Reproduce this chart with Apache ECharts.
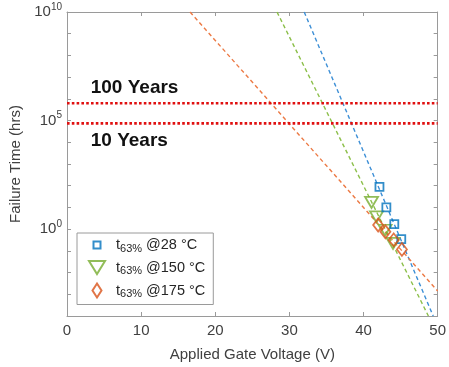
<!DOCTYPE html>
<html><head><meta charset="utf-8">
<script src="https://cdn.jsdelivr.net/npm/echarts@6/dist/echarts.min.js"></script>
<style>html,body{margin:0;padding:0;background:#fff}#c{width:449px;height:367px}</style>
</head><body><div id="c"></div>
<script>
// ---- data ----
const xTicks = [0, 10, 20, 30, 40, 50];
const yLabelExps = [0, 5, 10];
const legendTemps = ['28', '150', '175'];
// measured t63% points (V, hrs)
const v28 = [42.15, 43.08, 44.15, 45.09];
const t28 = [89, 10, 1.7, 0.35];
const v150 = [41.08, 41.75, 42.9, 43.98];
const t150 = [17, 3.7, 0.89, 0.22];
const v175 = [41.97, 42.95, 44.07, 45.18];
const t175 = [1.55, 0.76, 0.32, 0.117];
// fitted extrapolation lines (endpoints V, hrs)
const fit28V = [32.0, 49.4];
const fit28T = [1e10, 1e-4];
const fit150V = [28.33, 48.75];
const fit150T = [1e10, 1e-4];
const fit175V = [16.6, 50];
const fit175T = [1e10, 0.00141];
// reference lifetime lines
const refNames = ['100 Years', '10 Years'];
const refHrs = [630000, 74000];
const refV = [0, 50];
const annotV = [3.2, 3.2];
const annotHrs = [3.1e6, 1.15e4];

const FONT = 'Liberation Sans, Arial, sans-serif';
const colors = ['#0072BD', '#77AC30', '#D95319'];
const lineColors = ['#3d8fd6', '#8cbf4a', '#ec7a45'];
const zip = (a, b) => a.map((v, i) => [v, b[i]]);

const chart = echarts.init(document.getElementById('c'), null, {renderer: 'canvas'});
const axisGray = '#9a9a9a';
const textGray = '#404040';

const triDown = 'path://M0,0 L12,0 L6,10.4 Z';
const names = legendTemps.map(t => 'T' + t);
const legendIcons = [
  'path://M0,0 M16,14 M4.5,3.5 L11.5,3.5 L11.5,10.5 L4.5,10.5 Z',
  'path://M0,0.5 L16,0.5 L8,13.5 Z',
  'path://M0,0 M16,14 M8,0 L12.5,7 L8,14 L3.5,7 Z'
];

const series = [
  {name: names[0], type: 'scatter', data: zip(v28, t28), symbol: 'rect', symbolSize: 8,
   itemStyle: {color: 'rgba(0,0,0,0)', borderColor: colors[0], borderWidth: 1.8}, z: 5},
  {name: names[1], type: 'scatter', data: zip(v150, t150), symbol: triDown, symbolSize: [13, 11],
   itemStyle: {color: 'rgba(0,0,0,0)', borderColor: colors[1], borderWidth: 1.8}, z: 4},
  {name: names[2], type: 'scatter', data: zip(v175, t175), symbol: 'diamond', symbolSize: [10, 13],
   itemStyle: {color: 'rgba(0,0,0,0)', borderColor: colors[2], borderWidth: 1.8}, z: 6},
];
[[fit28V, fit28T], [fit150V, fit150T], [fit175V, fit175T]].forEach((f, i) => {
  series.push({type: 'line', data: zip(f[0], f[1]), showSymbol: false, symbol: 'none', silent: true,
    lineStyle: {color: lineColors[i], width: 1.4, type: [4, 3]}, z: 2});
});
refHrs.forEach(h => {
  series.push({type: 'line', data: zip(refV, [h, h]), showSymbol: false, symbol: 'none', silent: true,
    lineStyle: {color: '#e01010', width: 2.6, type: [2.6, 2.2]}, z: 3});
});

const supRich = {
  b: {fontSize: 15, fontFamily: FONT, color: textGray, lineHeight: 20},
  s: {fontSize: 10, fontFamily: FONT, color: textGray, lineHeight: 12, verticalAlign: 'top'}
};
const tick = {show: true, inside: true, length: 4, lineStyle: {color: axisGray, width: 1}};
const line = {show: true, onZero: false, lineStyle: {color: axisGray, width: 1}};

chart.setOption({
  animation: false,
  grid: {left: 67, top: 12, right: 8, bottom: 51, containLabel: false},
  xAxis: [
    {type: 'value', min: 0, max: 50, interval: 10, position: 'bottom',
     name: 'Applied Gate Voltage (V)', nameLocation: 'middle', nameGap: 31,
     nameTextStyle: {fontSize: 15, fontFamily: FONT, color: textGray},
     axisLine: line, axisTick: tick,
     axisLabel: {fontSize: 15, fontFamily: FONT, color: textGray, margin: 7,
       formatter: v => xTicks.includes(v) ? String(v) : ''},
     splitLine: {show: false}},
    {type: 'value', min: 0, max: 50, interval: 10, position: 'top',
     axisLine: line, axisTick: tick,
     axisLabel: {show: false}, splitLine: {show: false}}
  ],
  yAxis: [
    {type: 'log', logBase: 10, min: 1e-4, max: 1e10, interval: 1, position: 'left',
     name: 'Failure Time (hrs)', nameLocation: 'middle', nameGap: 44,
     nameTextStyle: {fontSize: 15, fontFamily: FONT, color: textGray},
     axisLine: line, axisTick: tick,
     axisLabel: {margin: 5, rich: supRich, formatter: v => {
       const e = Math.round(Math.log10(v));
       return yLabelExps.includes(e) ? '{b|10}{s|' + e + '}' : '';
     }},
     splitLine: {show: false}},
    {type: 'log', logBase: 10, min: 1e-4, max: 1e10, interval: 1, position: 'right',
     axisLine: line, axisTick: tick,
     axisLabel: {show: false}, splitLine: {show: false}}
  ],
  legend: {
    data: names.map((n, i) => ({name: n, icon: legendIcons[i]})),
    orient: 'vertical', left: 77, top: 233,
    padding: [4, 8, 5, 11], itemGap: 6, itemWidth: 16, itemHeight: 14,
    borderColor: '#9a9a9a', borderWidth: 1, backgroundColor: '#fff',
    selectedMode: false,
    formatter: n => '{t|t}{sub|63%}{n| @' + n.slice(1) + ' °C}',
    textStyle: {rich: {
      t: {fontSize: 14.5, fontFamily: FONT, color: '#262626', lineHeight: 18, padding: [0, 0, 0, 6]},
      sub: {fontSize: 11, fontFamily: FONT, color: '#262626', lineHeight: 11, verticalAlign: 'bottom'},
      n: {fontSize: 14.5, fontFamily: FONT, color: '#262626', lineHeight: 18}
    }}
  },
  series: series
});

const gtexts = refNames.map((t, i) => {
  const p = chart.convertToPixel({gridIndex: 0}, [annotV[i], annotHrs[i]]);
  return {type: 'text', x: p[0], y: p[1], z: 10,
    style: {text: t, font: 'bold 19px ' + FONT, fill: '#111', textVerticalAlign: 'middle', verticalAlign: 'middle'}};
});
chart.setOption({graphic: gtexts});
</script>
</body></html>
